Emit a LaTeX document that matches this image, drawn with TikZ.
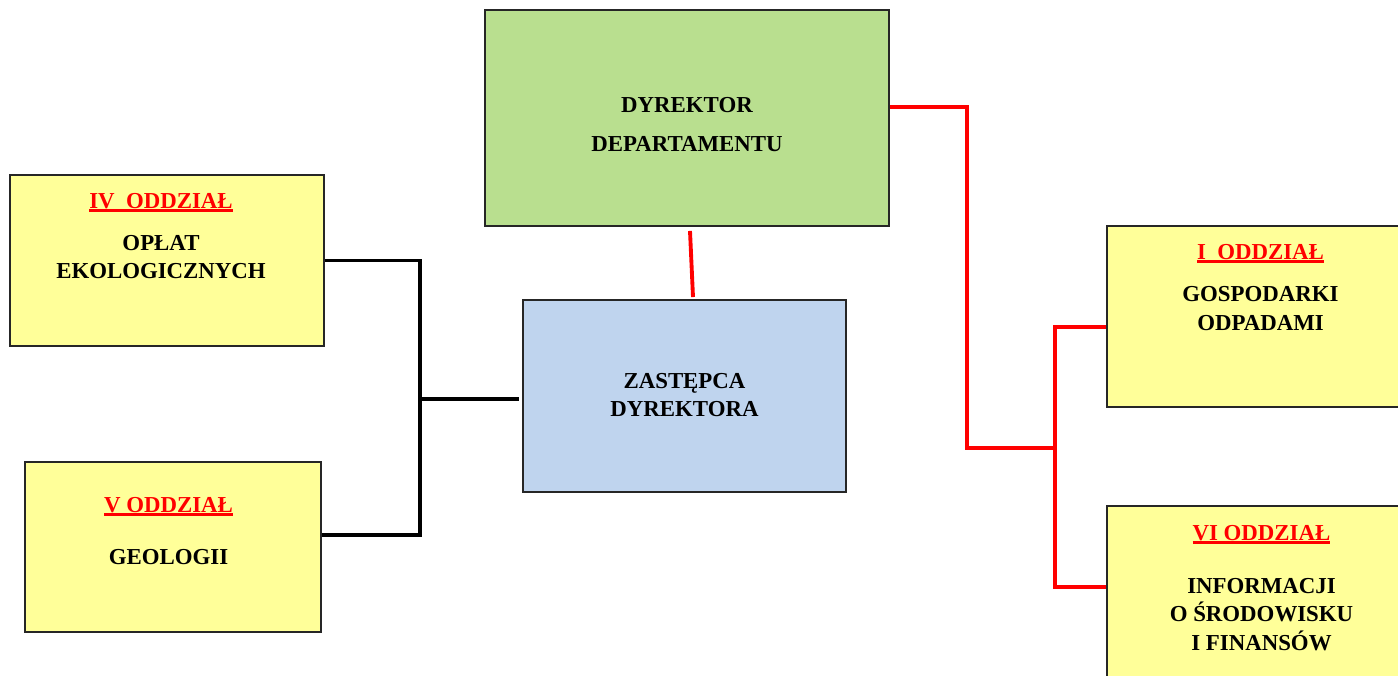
\documentclass[tikz,border=0pt]{standalone}
\usepackage{fontspec}
\setmainfont{Liberation Serif}
\usetikzlibrary{positioning}
\definecolor{boxgreen}{HTML}{B9DF8F}
\definecolor{boxblue}{HTML}{BFD4EE}
\definecolor{boxyellow}{HTML}{FFFF99}
\newcommand\oddzial[1]{\textcolor{red}{\setbox0\hbox{#1}\rlap{\rule[-2.3pt]{\wd0}{1.5pt}}\box0}}
\begin{document}
\begin{tikzpicture}
    \tikzset{unit/.style={draw=black!85, line width=1.1pt, minimum width=#1, inner sep=0pt}}
    \tikzset{label/.style={anchor=north, inner sep=0pt, align=center,
        font=\fontsize{13}{16}\selectfont\bfseries}}
    \tikzset{redline/.style={draw=red, line width=2.2pt}}
    \tikzset{blackline/.style={draw=black, line width=2.1pt}}
    \useasboundingbox (0,0) rectangle (27.96,13.5);
    \clip (0,0) rectangle (27.96,13.5);
    % boxes
    \node[unit=8.08cm, minimum height=4.32cm, fill=boxgreen] (dyr) at (13.74,11.14) {};
    \node[unit=6.46cm, minimum height=3.84cm, fill=boxblue] (zast) at (13.69,5.58) {};
    \node[unit=6.28cm, minimum height=3.42cm, fill=boxyellow] (iv) at (3.34,8.29) {};
    \node[unit=5.92cm, minimum height=3.40cm, fill=boxyellow] (v) at (3.46,2.56) {};
    \node[unit=6.06cm, minimum height=3.62cm, fill=boxyellow] (i) at (25.17,7.17) {};
    \node[unit=6.06cm, minimum height=3.88cm, fill=boxyellow] (vi) at (25.17,1.44) {};
    % texts
    \node[label, below=1.75cm of dyr.north] (dyrtxt) {DYREKTOR\\[6.7pt]DEPARTAMENTU};
    \node[label, below=1.47cm of zast.north] (zasttxt) {ZASTĘPCA\\DYREKTORA};
    \node[label, below=0.37cm of iv.north, xshift=-0.12cm] (ivtxt)
        {\oddzial{IV\ \ ODDZIAŁ}\\[7.9pt]OPŁAT\\EKOLOGICZNYCH};
    \node[label, below=0.71cm of v.north, xshift=-0.09cm] (vtxt)
        {\oddzial{V ODDZIAŁ}\\[14pt]GEOLOGII};
    \node[label, below=0.37cm of i.north, xshift=0.04cm] (itxt)
        {\oddzial{I\ \ ODDZIAŁ}\\[8.4pt]GOSPODARKI\\ODPADAMI};
    \node[label, below=0.39cm of vi.north, xshift=0.06cm] (vitxt)
        {\oddzial{VI ODDZIAŁ}\\[14.6pt]INFORMACJI\\O ŚRODOWISKU\\I FINANSÓW};
    % connectors
    \coordinate (rj) at (19.34,4.54);
    \coordinate (rk) at (21.10,4.54);
    \coordinate (bj) at (8.40,5.52);
    \draw[redline] ([yshift=.22cm]dyr.east) -| (rj) -- (rk);
    \draw[redline] ([yshift=-.21cm]i.west) -| (rk) |- ([yshift=.32cm]vi.west);
    \draw[redline] ([xshift=.06cm,yshift=-.08cm]dyr.south) -- ([xshift=.17cm,yshift=.04cm]zast.north);
    \draw[blackline] (iv.east) -| (bj) -- ([xshift=-.06cm]bj -| zast.west);
    \draw[blackline] ([yshift=.24cm]v.east) -| (bj);
\end{tikzpicture}
\end{document}
